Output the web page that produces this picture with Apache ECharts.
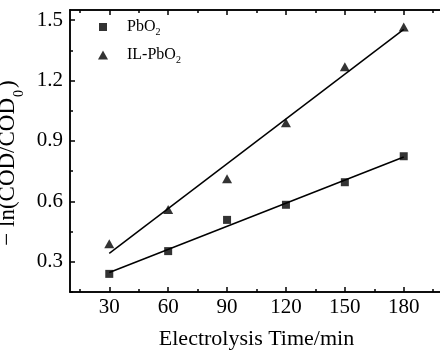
<!DOCTYPE html>
<html>
<head>
<meta charset="utf-8">
<script src="https://cdn.jsdelivr.net/npm/echarts@6/dist/echarts.min.js"></script>
<style>html,body{margin:0;padding:0;background:#fff}#c{width:440px;height:359px}</style>
</head>
<body>
<div id="c"></div>
<script>
// ---- data ----
var times = [30, 60, 90, 120, 150, 180];
var pbo2 = [0.240, 0.353, 0.508, 0.583, 0.695, 0.824];
var ilPbo2 = [0.390, 0.560, 0.712, 0.990, 1.268, 1.465];
var fitPbo2 = [[30, 0.247], [180, 0.820]];
var fitIl = [[30, 0.342], [180, 1.454]];
var xMajor = [30, 60, 90, 120, 150, 180];
var xMinor = [15, 45, 75, 105, 135, 165, 195];
var yMajor = [0.3, 0.6, 0.9, 1.2, 1.5];
var yMinor = [0.15, 0.45, 0.75, 1.05, 1.35];

var FONT = "'Liberation Serif','Times New Roman',serif";
var black = '#000';

function pairs(xs, ys) { return xs.map(function (x, i) { return [x, ys[i]]; }); }

function xAx(pos, ticks, len, opts) {
  var a = {
    type: 'value', position: pos, min: 10, max: 200, gridIndex: 0,
    axisLine: { show: true, lineStyle: { color: black, width: 1.5 } },
    axisTick: { show: true, inside: true, length: len, customValues: ticks, lineStyle: { color: black, width: 1.5 } },
    axisLabel: { show: false },
    splitLine: { show: false }
  };
  return Object.assign(a, opts || {});
}
function yAx(pos, ticks, len, opts) {
  var a = {
    type: 'value', position: pos, min: 0.15, max: 1.55, gridIndex: 0,
    axisLine: { show: true, lineStyle: { color: black, width: 1.5 } },
    axisTick: { show: true, inside: true, length: len, customValues: ticks, lineStyle: { color: black, width: 1.5 } },
    axisLabel: { show: false },
    splitLine: { show: false }
  };
  return Object.assign(a, opts || {});
}

var chart = echarts.init(document.getElementById('c'), null, { renderer: 'canvas' });
chart.setOption({
  backgroundColor: '#fff',
  animation: false,
  grid: { show: false, left: 70, top: 10, bottom: 67, right: -3, containLabel: false, outerBoundsMode: 'none' },
  xAxis: [
    xAx('bottom', xMajor, 5, {
      axisLabel: { show: true, customValues: xMajor, fontSize: 21, fontFamily: FONT, color: black, margin: 5 },
      name: 'Electrolysis Time/min', nameLocation: 'middle', nameGap: 36,
      nameTextStyle: { fontSize: 22, fontFamily: FONT, color: black }
    }),
    xAx('bottom', xMinor, 3),
    xAx('top', xMajor, 5),
    xAx('top', xMinor, 3)
  ],
  yAxis: [
    yAx('left', yMajor, 5, {
      axisLabel: { show: true, customValues: yMajor, fontSize: 21, fontFamily: FONT, color: black, margin: 7,
        formatter: function (v) { return v.toFixed(1); } },
      name: '\u2212 ln(COD/COD{sub|0})', nameLocation: 'middle', nameGap: 42,
      nameTextStyle: { fontSize: 23, fontFamily: FONT, color: black, padding: [0, 24, 0, 0],
        rich: { sub: { fontSize: 14, fontFamily: FONT, color: black, verticalAlign: 'bottom', padding: [22, 2, 0, 1] } } }
    }),
    yAx('left', yMinor, 3)
  ],
  legend: [
    {
      data: ['PbO2'], orient: 'vertical', left: 99, top: 19, itemWidth: 8, itemHeight: 8, padding: 0,
      textStyle: { fontSize: 16, fontFamily: FONT, color: black, padding: [0, 0, 0, 15],
        rich: { sub: { fontSize: 10, fontFamily: FONT, color: black, verticalAlign: 'bottom', padding: [11, 0, 0, 0] } } },
      formatter: function () { return 'PbO{sub|2}'; }
    },
    {
      data: ['IL-PbO2'], orient: 'vertical', left: 98, top: 47, itemWidth: 10, itemHeight: 9, padding: 0,
      textStyle: { fontSize: 16, fontFamily: FONT, color: black, padding: [0, 0, 0, 14],
        rich: { sub: { fontSize: 10, fontFamily: FONT, color: black, verticalAlign: 'bottom', padding: [11, 0, 0, 0] } } },
      formatter: function () { return 'IL-PbO{sub|2}'; }
    }
  ],
  series: [
    { name: 'fitPbO2', type: 'line', data: fitPbo2, showSymbol: false, symbol: 'none',
      lineStyle: { color: black, width: 1.5 }, z: 2, silent: true },
    { name: 'fitIL', type: 'line', data: fitIl, showSymbol: false, symbol: 'none',
      lineStyle: { color: black, width: 1.5 }, z: 2, silent: true },
    { name: 'PbO2', type: 'scatter', data: pairs(times, pbo2), symbol: 'rect', symbolSize: 8,
      itemStyle: { color: black }, z: 3 },
    { name: 'IL-PbO2', type: 'scatter', data: pairs(times, ilPbo2), symbol: 'triangle', symbolSize: [10, 9],
      itemStyle: { color: black }, z: 3 }
  ]
});
</script>
</body>
</html>
